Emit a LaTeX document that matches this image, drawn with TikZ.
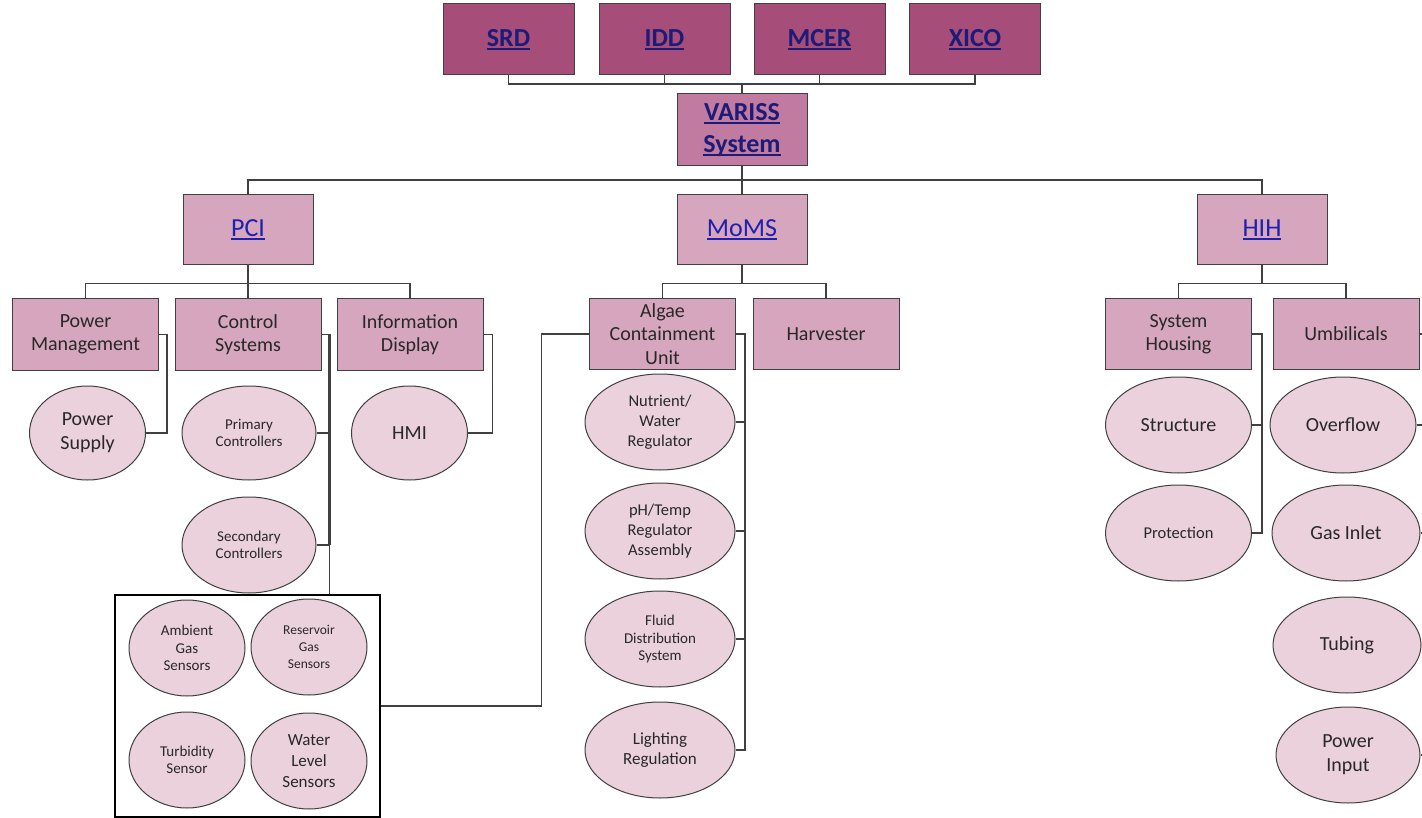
\documentclass[tikz,border=0pt]{standalone}
\usepackage{fontspec}
\setmainfont{Carlito}
\usetikzlibrary{shapes.geometric}
\definecolor{topfill}{RGB}{166,77,121}
\definecolor{sysfill}{RGB}{194,123,160}
\definecolor{grpfill}{RGB}{213,166,189}
\definecolor{partfill}{RGB}{234,209,220}
\definecolor{linegray}{RGB}{64,64,64}
\definecolor{txtgray}{RGB}{40,40,40}
\definecolor{linknavy}{RGB}{28,28,120}
\definecolor{linkblue}{RGB}{32,32,175}
\newcommand\ulink[1]{\setbox0\hbox{#1}\rlap{\rule[-0.14em]{\wd0}{0.07em}}\box0}

\begin{document}
\begin{tikzpicture}[x=1pt,y=-1pt,
  topbox/.style={draw=linegray,line width=1pt,fill=topfill,minimum width=131pt,minimum height=71pt,
    text=linknavy,font=\fontsize{26}{32}\selectfont\bfseries},
  sysbox/.style={topbox,fill=sysfill,minimum width=130pt,minimum height=72pt},
  grpbox/.style={draw=linegray,line width=1pt,fill=grpfill,minimum width=130pt,minimum height=70pt,
    text=linkblue,font=\fontsize{26}{32}\selectfont},
  unitbox/.style={draw=linegray,line width=1pt,fill=grpfill,minimum width=146pt,minimum height=71pt,
    inner ysep=0pt,align=center,text=txtgray,font=\fontsize{20}{23.5}\selectfont},
  part/.style={ellipse,draw=linegray,line width=1pt,fill=partfill,minimum width=116pt,minimum height=94pt,
    inner sep=0pt,align=center,text=txtgray,font=\fontsize{20}{24}\selectfont},
  small/.style={font=\fontsize{15}{17.5}\selectfont},
  mid/.style={font=\fontsize{16.5}{20}\selectfont}]
\path[use as bounding box,fill=white] (0,0) rectangle (1422,818);

\foreach \nm/\xx in {SRD/508.5,IDD/664.5,MCER/819.5,XICO/975}
  \node[topbox] (\nm) at (\xx,39.5) {\ulink{\nm}};
\node[sysbox,align=center] (VARISS) at (742,130) {\ulink{VARISS}\\\ulink{System}};
\foreach \nm/\xx in {PCI/248,MoMS/742,HIH/1262}
  \node[grpbox] (\nm) at (\xx,230) {\ulink{\nm}};

\node[unitbox] (pwrmgmt) at (85.5,334.5) {Power\\Management};
\node[unitbox] (ctrlsys) at (248,334.5) {Control\\Systems};
\node[unitbox] (infodisp) at (410,334.5) {Information\\Display};
\node[unitbox] (algae) at (662.5,334) {Algae\\Containment\\Unit};
\node[unitbox] (harvest) at (826,334) {Harvester};
\node[unitbox] (syshous) at (1178.5,334) {System\\Housing};
\node[unitbox] (umbil) at (1346,334) {Umbilicals};

\node[part] (pwrsup) at (87.5,433) {Power\\Supply};
\node[part,minimum width=134pt,small] (primctl) at (249,433) {Primary\\Controllers};
\node[part] (hmi) at (409.5,433) {HMI};
\node[part,minimum width=134pt,minimum height=96pt,small] (secctl) at (249,545) {Secondary\\Controllers};

\node[draw=black,line width=2.5pt,minimum width=265pt,minimum height=222pt,inner sep=0pt] (sensors) at (247.5,706) {};
\node[part,minimum height=96pt,small] (ambgas) at (187,648) {Ambient\\Gas\\Sensors};
\node[part,minimum height=96pt,font=\fontsize{13.5}{17}\selectfont] (resgas) at (309,647) {Reservoir\\Gas\\Sensors};
\node[part,minimum height=96pt,small] (turb) at (187,760) {Turbidity\\Sensor};
\node[part,minimum height=96pt,font=\fontsize{17}{21}\selectfont] (wlevel) at (309,761) {Water\\Level\\Sensors};

\node[part,minimum width=150pt,minimum height=96pt,mid] (nutr) at (660,422) {Nutrient/\\Water\\Regulator};
\node[part,minimum width=150pt,minimum height=96pt,mid] (phtemp) at (660,531) {pH/Temp\\Regulator\\Assembly};
\node[part,minimum width=150pt,minimum height=96pt,small] (fluid) at (660,639) {Fluid\\Distribution\\System};
\node[part,minimum width=150pt,minimum height=96pt,font=\fontsize{17}{20.5}\selectfont] (light) at (660,750) {Lighting\\Regulation};

\node[part,minimum width=146pt,minimum height=96pt] (struct) at (1178.5,425) {Structure};
\node[part,minimum width=146pt,minimum height=96pt,mid] (protect) at (1178.5,533) {Protection};
\node[part,minimum width=146pt,minimum height=96pt] (overflow) at (1343,425) {Overflow};
\node[part,minimum width=148pt,minimum height=96pt] (gasin) at (1346,533) {Gas Inlet};
\node[part,minimum width=148pt,minimum height=96pt] (tubing) at (1347,645) {Tubing};
\node[part,minimum width=144pt,minimum height=96pt] (pwrin) at (1348,755) {Power\\Input};

\begin{scope}[every path/.style={draw=linegray,line width=1.1pt}]
\coordinate (topbus) at (742,84);
\foreach \nm in {SRD,IDD,MCER,XICO}
  \draw (\nm.south) |- (topbus);
\draw (topbus) -- (VARISS.north);
\coordinate (midbus) at (742,180);
\draw (VARISS.south) -- (midbus);
\foreach \nm in {PCI,MoMS,HIH}
  \draw (midbus) -| (\nm.north);
\draw (PCI.south) -- ++(0,18) coordinate (pcibus);
\foreach \u in {pwrmgmt,ctrlsys,infodisp}
  \draw (pcibus) -| (\u.north);
\draw (MoMS.south) -- ++(0,18) coordinate (momsbus);
\foreach \u in {algae,harvest}
  \draw (momsbus) -| (\u.north);
\draw (HIH.south) -- ++(0,18) coordinate (hihbus);
\foreach \u in {syshous,umbil}
  \draw (hihbus) -| (\u.north);

\draw (pwrmgmt.east) -- ++(8,0) |- (pwrsup.east);
\draw (ctrlsys.east) -- ++(8,0) coordinate (cstrunk) -- (cstrunk |- sensors.north);
\draw[line width=2.2pt] (cstrunk) -- (cstrunk |- secctl.east);
\foreach \e in {primctl,secctl}
  \draw (\e.east) -- (\e.east -| cstrunk);
\draw (infodisp.east) -- ++(9,0) |- (hmi.east);
\draw (sensors.east) -- ++(160,0) |- (algae.west);
\draw (algae.east) -- ++(9,0) coordinate (acutrunk) |- (light.east);
\foreach \e in {nutr,phtemp,fluid}
  \draw (\e.east) -- (\e.east -| acutrunk);
\draw (syshous.east) -- ++(10,0) coordinate (shtrunk) |- (protect.east);
\draw (struct.east) -- (struct.east -| shtrunk);
\draw (umbil.east) -- ++(12,0) coordinate (umtrunk) |- (pwrin.east);
\foreach \e in {overflow,gasin,tubing}
  \draw (\e.east) -- (\e.east -| umtrunk);
\end{scope}
\end{tikzpicture}
\end{document}
